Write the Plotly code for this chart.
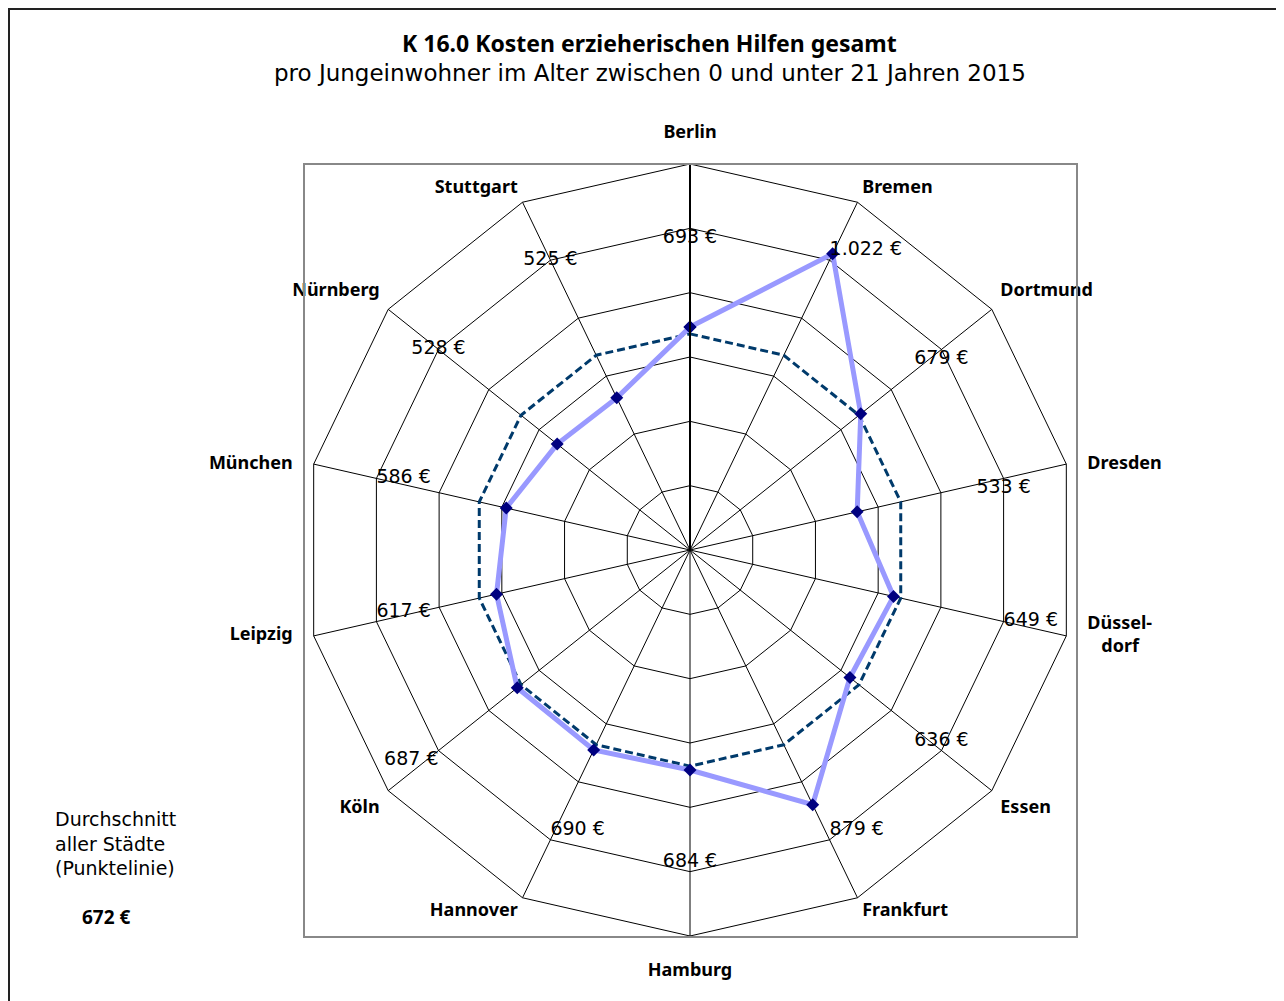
import plotly.graph_objects as go

cities = ["Berlin", "Bremen", "Dortmund", "Dresden", "Düsseldorf", "Essen", "Frankfurt",
          "Hamburg", "Hannover", "Köln", "Leipzig", "München", "Nürnberg", "Stuttgart"]
city_labels = ["Berlin", "Bremen", "Dortmund", "Dresden", "Düssel-<br>\u00a0\u00a0\u00a0dorf", "Essen", "Frankfurt",
               "Hamburg", "Hannover", "Köln", "Leipzig", "München", "Nürnberg", "Stuttgart"]
costs = [693, 1022, 679, 533, 649, 636, 879, 684, 690, 687, 617, 586, 528, 525]
average = 672
label_r = 1000
r_max = 1200


def euro(v):
    return f"{v:,}".replace(",", ".") + " €"


LBL = "Noto Sans"
TXT = "DejaVu Sans"

W, H = 1284, 1001
OFF = 8  # page offset of the plot div


def px(x):
    return (x - OFF) / W


def py(y):
    return 1 - (y - OFF) / H


fig = go.Figure()

# average (dashed)
fig.add_trace(go.Scatterpolar(
    r=[average] * len(cities) + [average], theta=cities + [cities[0]],
    mode="lines", line=dict(color="#003a6b", width=3, dash="8px,4px"),
    hoverinfo="skip", showlegend=False))

# city values
fig.add_trace(go.Scatterpolar(
    r=costs + [costs[0]], theta=cities + [cities[0]],
    mode="lines+markers",
    line=dict(color="#9999FF", width=5),
    marker=dict(symbol="diamond", size=10, color="#000080"),
    showlegend=False))

# data labels
label_pos = {"Berlin": "bottom center", "Bremen": "top right", "Dortmund": "bottom center",
             "Dresden": "bottom center", "Düsseldorf": "middle right", "Essen": "top center",
             "Frankfurt": "top right", "Hamburg": "top center", "Hannover": "top right",
             "Köln": "bottom left", "Leipzig": "top right", "München": "middle right",
             "Nürnberg": "middle center", "Stuttgart": "middle center"}
fig.add_trace(go.Scatterpolar(
    r=[label_r] * len(cities), theta=cities,
    mode="text", text=[euro(v) for v in costs],
    textposition=[label_pos[c] for c in cities],
    textfont=dict(family=TXT, size=19, color="black"),
    hoverinfo="skip", showlegend=False, cliponaxis=False))

# category labels (except top/bottom, which are angular tick labels)
pos_map = {"Bremen": "top right", "Dortmund": "top right", "Dresden": "middle right",
           "Düsseldorf": "middle right", "Essen": "bottom right", "Frankfurt": "bottom right",
           "Hannover": "bottom left", "Köln": "bottom left", "Leipzig": "middle left",
           "München": "middle left", "Nürnberg": "top left", "Stuttgart": "top left"}
groups = [
    (["Bremen", "Frankfurt", "Hannover", "Stuttgart"], 6),
    (["Dortmund", "Essen", "Köln", "Nürnberg"], 12),
    (["Dresden", "Düsseldorf", "Leipzig", "München"], 32),
]
for names, msize in groups:
    fig.add_trace(go.Scatterpolar(
        r=[r_max] * len(names), theta=names,
        mode="markers+text",
        text=["<b>" + city_labels[cities.index(n)] + "</b>" for n in names],
        marker=dict(size=msize, color="rgba(0,0,0,0)"),
        textposition=[pos_map[n] for n in names],
        textfont=dict(family=LBL, size=18, color="black"),
        hoverinfo="skip", showlegend=False, cliponaxis=False))

x0, x1 = 304, 1076
y0, y1 = 164, 936

fig.update_layout(
    width=W, height=H,
    margin=dict(l=0, r=0, t=0, b=0),
    paper_bgcolor="white",
    font=dict(family=LBL, color="black"),
    polar=dict(
        domain=dict(x=[px(x0), px(x1)], y=[py(y1), py(y0)]),
        bgcolor="white",
        gridshape="linear",
        radialaxis=dict(range=[0, r_max], dtick=200, showticklabels=False, ticks="",
                        showline=True, linecolor="black", linewidth=2, angle=90,
                        gridcolor="black", gridwidth=1),
        angularaxis=dict(direction="clockwise", rotation=90,
                         categoryorder="array", categoryarray=cities,
                         tickmode="array", tickvals=cities,
                         ticktext=[c if c in ("Berlin", "Hamburg") else "" for c in cities],
                         ticks="outside", ticklen=18, tickcolor="rgba(0,0,0,0)",
                         tickfont=dict(family=LBL, size=18, color="black", weight="bold"),
                         showline=True, linecolor="black", linewidth=1,
                         gridcolor="black", gridwidth=1),
    ),
    shapes=[
        dict(type="rect", xref="paper", yref="paper",
             x0=px(x0), x1=px(x1 + 1), y0=py(y1 + 1), y1=py(y0),
             line=dict(color="#888888", width=2), layer="above"),
        dict(type="rect", xref="paper", yref="paper",
             x0=px(OFF + 1), x1=1.05, y0=-0.05, y1=py(OFF + 1),
             line=dict(color="#222222", width=2), layer="above"),
    ],
    annotations=[
        dict(text="<b>K 16.0 Kosten erzieherischen Hilfen gesamt</b>", x=px(649), y=py(43),
             xref="paper", yref="paper", showarrow=False, xanchor="center", yanchor="middle",
             font=dict(family=LBL, size=23, color="black")),
        dict(text="pro Jungeinwohner im Alter zwischen 0 und unter 21 Jahren 2015", x=px(650), y=py(73),
             xref="paper", yref="paper", showarrow=False, xanchor="center", yanchor="middle",
             font=dict(family=TXT, size=23, color="black")),
        dict(text="Durchschnitt<br>aller Städte<br>(Punktelinie)", x=px(53), y=py(843),
             xref="paper", yref="paper", showarrow=False, xanchor="left", yanchor="middle",
             align="left", font=dict(family=TXT, size=19, color="black")),
        dict(text="<b>" + euro(average) + "</b>", x=px(106), y=py(917),
             xref="paper", yref="paper", showarrow=False, xanchor="center", yanchor="middle",
             font=dict(family=LBL, size=19, color="black")),
    ],
)

fig.write_html("out.html")
